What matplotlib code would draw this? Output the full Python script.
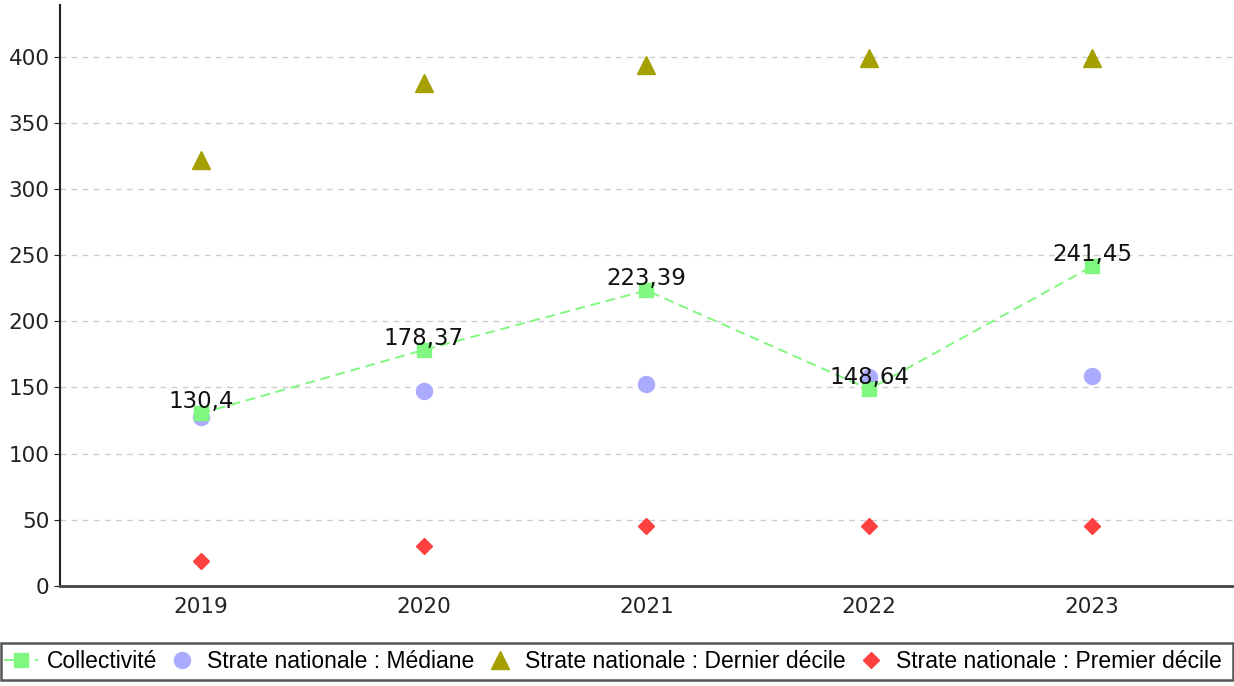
import matplotlib
matplotlib.use("Agg")
import matplotlib.pyplot as plt
from matplotlib.patches import Rectangle

years = ["2019", "2020", "2021", "2022", "2023"]
collectivite = [130.4, 178.37, 223.39, 148.64, 241.45]
mediane = [128, 147, 153, 158, 159]
dernier_decile = [322, 380, 394, 399, 399]
premier_decile = [19, 30, 45, 45, 45]
labels = ["130,4", "178,37", "223,39", "148,64", "241,45"]

x = list(range(len(years)))

fig = plt.figure(figsize=(12.34, 6.86), dpi=100)
ax = fig.add_axes([60 / 1234, 1 - 586 / 686, 1174 / 1234, 581 / 686])

ax.plot(x, collectivite, color="#80f880", linestyle="--", dashes=(5, 3), lw=1.4,
        marker="s", ms=10.5, label="Collectivité", zorder=4)
ax.plot(x, mediane, linestyle="none", marker="o", ms=11.5, color="#aaaaff",
        label="Strate nationale : Médiane", zorder=3)
ax.plot(x, dernier_decile, linestyle="none", marker="^", ms=13, color="#a4a000",
        label="Strate nationale : Dernier décile", zorder=3)
ax.plot(x, premier_decile, linestyle="none", marker="D", ms=8.5, color="#ff4040",
        label="Strate nationale : Premier décile", zorder=3)

for xi, yi, lab in zip(x, collectivite, labels):
    ax.annotate(lab, (xi, yi), xytext=(0, 0), textcoords="offset points",
                ha="center", va="bottom", fontsize=16.5, color="#111111", zorder=5)

ax.set_xlim(-0.632, 4.637)
ax.set_ylim(0, 439)
ax.set_xticks(x)
ax.set_xticklabels(years)
ax.set_yticks(range(0, 401, 50))
ax.tick_params(axis="x", length=0, labelsize=15.5, pad=8, colors="#222222")
ax.tick_params(axis="y", length=4, labelsize=15.5, colors="#222222")
ax.yaxis.grid(True, linestyle=(0, (4, 4)), color="#cccccc", lw=1)
ax.set_axisbelow(True)
for s in ["top", "right"]:
    ax.spines[s].set_visible(False)
ax.spines["left"].set_color("#222222")
ax.spines["left"].set_linewidth(1.5)
ax.spines["bottom"].set_color("#444444")
ax.spines["bottom"].set_linewidth(2)

# legend box across the bottom
fig.patches.append(Rectangle((0.001, 6 / 686), 0.998, 37 / 686, transform=fig.transFigure,
                             fill=False, edgecolor="#555555", lw=1.8))
handles, labs = ax.get_legend_handles_labels()
fig.legend(handles, labs, loc="center left", bbox_to_anchor=(4 / 1234, 24.5 / 686), ncol=4,
           frameon=False, prop={"family": "Liberation Sans", "size": 16.5},
           handlelength=1.5, handletextpad=0.35, columnspacing=0.35, borderaxespad=0,
           borderpad=0.0)

fig.savefig("out.png", dpi=100)
